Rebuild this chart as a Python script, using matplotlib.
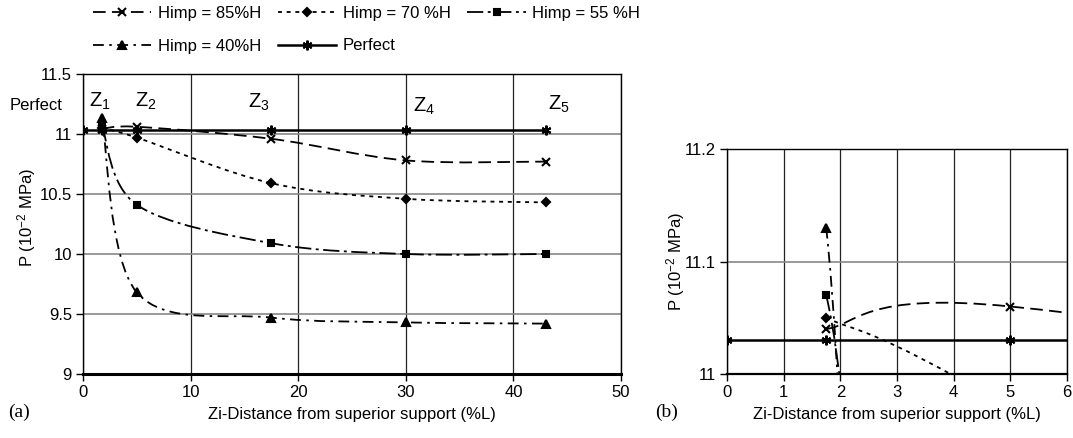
"""
Pressure along the pile for several imperfection heights, (a) full length and (b) zoom near the support.
"""

import numpy as np
import matplotlib.pyplot as plt
from matplotlib.path import Path
from matplotlib.patches import PathPatch
from matplotlib.lines import Line2D

plt.rcParams['font.family'] = ['Liberation Sans', 'DejaVu Sans']
plt.rcParams['mathtext.default'] = 'regular'

# data
zones_x = [1.75, 5, 17.5, 30, 43]
himp_85 = [11.04, 11.06, 10.96, 10.78, 10.77]
himp_70 = [11.05, 10.97, 10.59, 10.46, 10.43]
himp_55 = [11.07, 10.41, 10.09, 10.00, 10.00]
himp_40 = [11.13, 9.68, 9.47, 9.43, 9.42]

perfect_x = [0, 1.75, 5, 17.5, 30, 43]
perfect_y = [11.03, 11.03, 11.03, 11.03, 11.03, 11.03]

labels = ["Himp = 85%H", "Himp = 70 %H", "Himp = 55 %H", "Himp = 40%H", "Perfect"]
zone_labels = ["Z$_1$", "Z$_2$", "Z$_3$", "Z$_4$", "Z$_5$"]
zone_label_pos = [(1.6, 11.225), (5.8, 11.225), (16.3, 11.217), (31.7, 11.183), (44.2, 11.2)]

a_yticks = [9, 9.5, 10, 10.5, 11, 11.5]
a_yticklabels = ["9", "9.5", "10", "10.5", "11", "11.5"]
a_xticks = [0, 10, 20, 30, 40, 50]
b_yticks = [11, 11.1, 11.2]
b_yticklabels = ["11", "11.1", "11.2"]
b_xticks = [0, 1, 2, 3, 4, 5, 6]

# line styles: (dashes, marker, markersize)
styles = [
    ((7, 3.5), 'x', 6),
    ((2.2, 2.6), 'D', 4),
    ((9, 2.5, 1.6, 2.5), 's', 5),
    ((6, 3, 1.4, 3), '^', 6),
]
series = [himp_85, himp_70, himp_55, himp_40]

FS = 12


def smooth_path(x, y):
    # Excel-like smoothed line (Catmull-Rom as cubic Bezier)
    pts = np.column_stack([x, y]).astype(float)
    n = len(pts)
    verts = [pts[0]]
    codes = [Path.MOVETO]
    for i in range(n - 1):
        p0 = pts[i - 1] if i > 0 else pts[i]
        p1 = pts[i]
        p2 = pts[i + 1]
        p3 = pts[i + 2] if i + 2 < n else pts[i + 1]
        verts += [p1 + (p2 - p0) / 6, p2 - (p3 - p1) / 6, p2]
        codes += [Path.CURVE4] * 3
    return Path(verts, codes)


def draw_series(ax):
    for vals, (dash, mk, ms) in zip(series, styles):
        ax.add_patch(PathPatch(smooth_path(zones_x, vals), fill=False, edgecolor='black',
                               lw=1.3, linestyle=(0, dash), zorder=3))
        ax.plot(zones_x, vals, linestyle='none', marker=mk, ms=ms, color='black',
                mew=1.5, zorder=4)
    ax.plot(perfect_x, perfect_y, color='black', lw=1.8, marker=(6, 2, 0), ms=7,
            mew=1.5, zorder=5)


def style_axes(ax):
    ax.xaxis.grid(True, color='#222222', lw=0.9)
    ax.yaxis.grid(True, color='#888888', lw=1.2)
    ax.set_axisbelow(True)
    for s in ax.spines.values():
        s.set_linewidth(1.0)
    ax.tick_params(direction='out', length=5, width=1, labelsize=FS, pad=3)


fig = plt.figure(figsize=(10.73, 4.38), dpi=100)
W, H = 1073, 438
ax_a = fig.add_axes([83 / W, 1 - 374 / H, (621 - 83) / W, (374 - 74) / H])
ax_b = fig.add_axes([727 / W, 1 - 374 / H, (1067 - 727) / W, (374 - 149) / H])

# panel (a)
draw_series(ax_a)
ax_a.set_xlim(0, 50)
ax_a.set_ylim(9, 11.5)
ax_a.set_xticks(a_xticks)
ax_a.set_yticks(a_yticks)
ax_a.set_yticklabels(a_yticklabels)
style_axes(ax_a)
ax_a.spines['bottom'].set_linewidth(2.2)
ax_a.set_xlabel("Zi-Distance from superior support (%L)", fontsize=FS, labelpad=5)
ax_a.set_ylabel("P (10$^{-2}$ MPa)", fontsize=FS, va='center')
ax_a.yaxis.set_label_coords(-0.104, 0.52)
for txt, (zx, zy) in zip(zone_labels, zone_label_pos):
    ax_a.text(zx, zy, txt, fontsize=14.5, ha='center', va='baseline')

# panel (b)
draw_series(ax_b)
ax_b.set_xlim(0, 6)
ax_b.set_ylim(11, 11.2)
ax_b.set_xticks(b_xticks)
ax_b.set_yticks(b_yticks)
ax_b.set_yticklabels(b_yticklabels)
style_axes(ax_b)
ax_b.spines['bottom'].set_linewidth(1.6)
ax_b.set_xlabel("Zi-Distance from superior support (%L)", fontsize=FS, labelpad=5)
ax_b.set_ylabel("P (10$^{-2}$ MPa)", fontsize=FS, va='center')
ax_b.yaxis.set_label_coords(-0.15, 0.5)

fig.text(10 / W, 1 - 106 / H, "Perfect", fontsize=FS, ha='left', va='center')
fig.text(8 / W, 1 - 412 / H, "(a)", fontsize=14, family='Liberation Serif', va='center')
fig.text(655 / W, 1 - 412 / H, "(b)", fontsize=14, family='Liberation Serif', va='center')

# legend, row-major order for 3 columns
handles = []
for (dash, mk, ms) in styles:
    handles.append(Line2D([], [], color='black', lw=1.3, linestyle=(0, dash),
                          marker=mk, ms=ms, mew=1.5))
handles.append(Line2D([], [], color='black', lw=1.8, marker=(6, 2, 0), ms=7, mew=1.5))
order = [0, 3, 1, 4, 2]
fig.legend([handles[i] for i in order], [labels[i] for i in order], ncol=3,
           loc='upper left', bbox_to_anchor=(93 / W, 1 - 6 / H), frameon=False,
           fontsize=FS, handlelength=3.5, handletextpad=0.4, columnspacing=1.0,
           labelspacing=1.05, borderpad=0, borderaxespad=0)

fig.savefig("out.png", dpi=100)
plt.close(fig)
